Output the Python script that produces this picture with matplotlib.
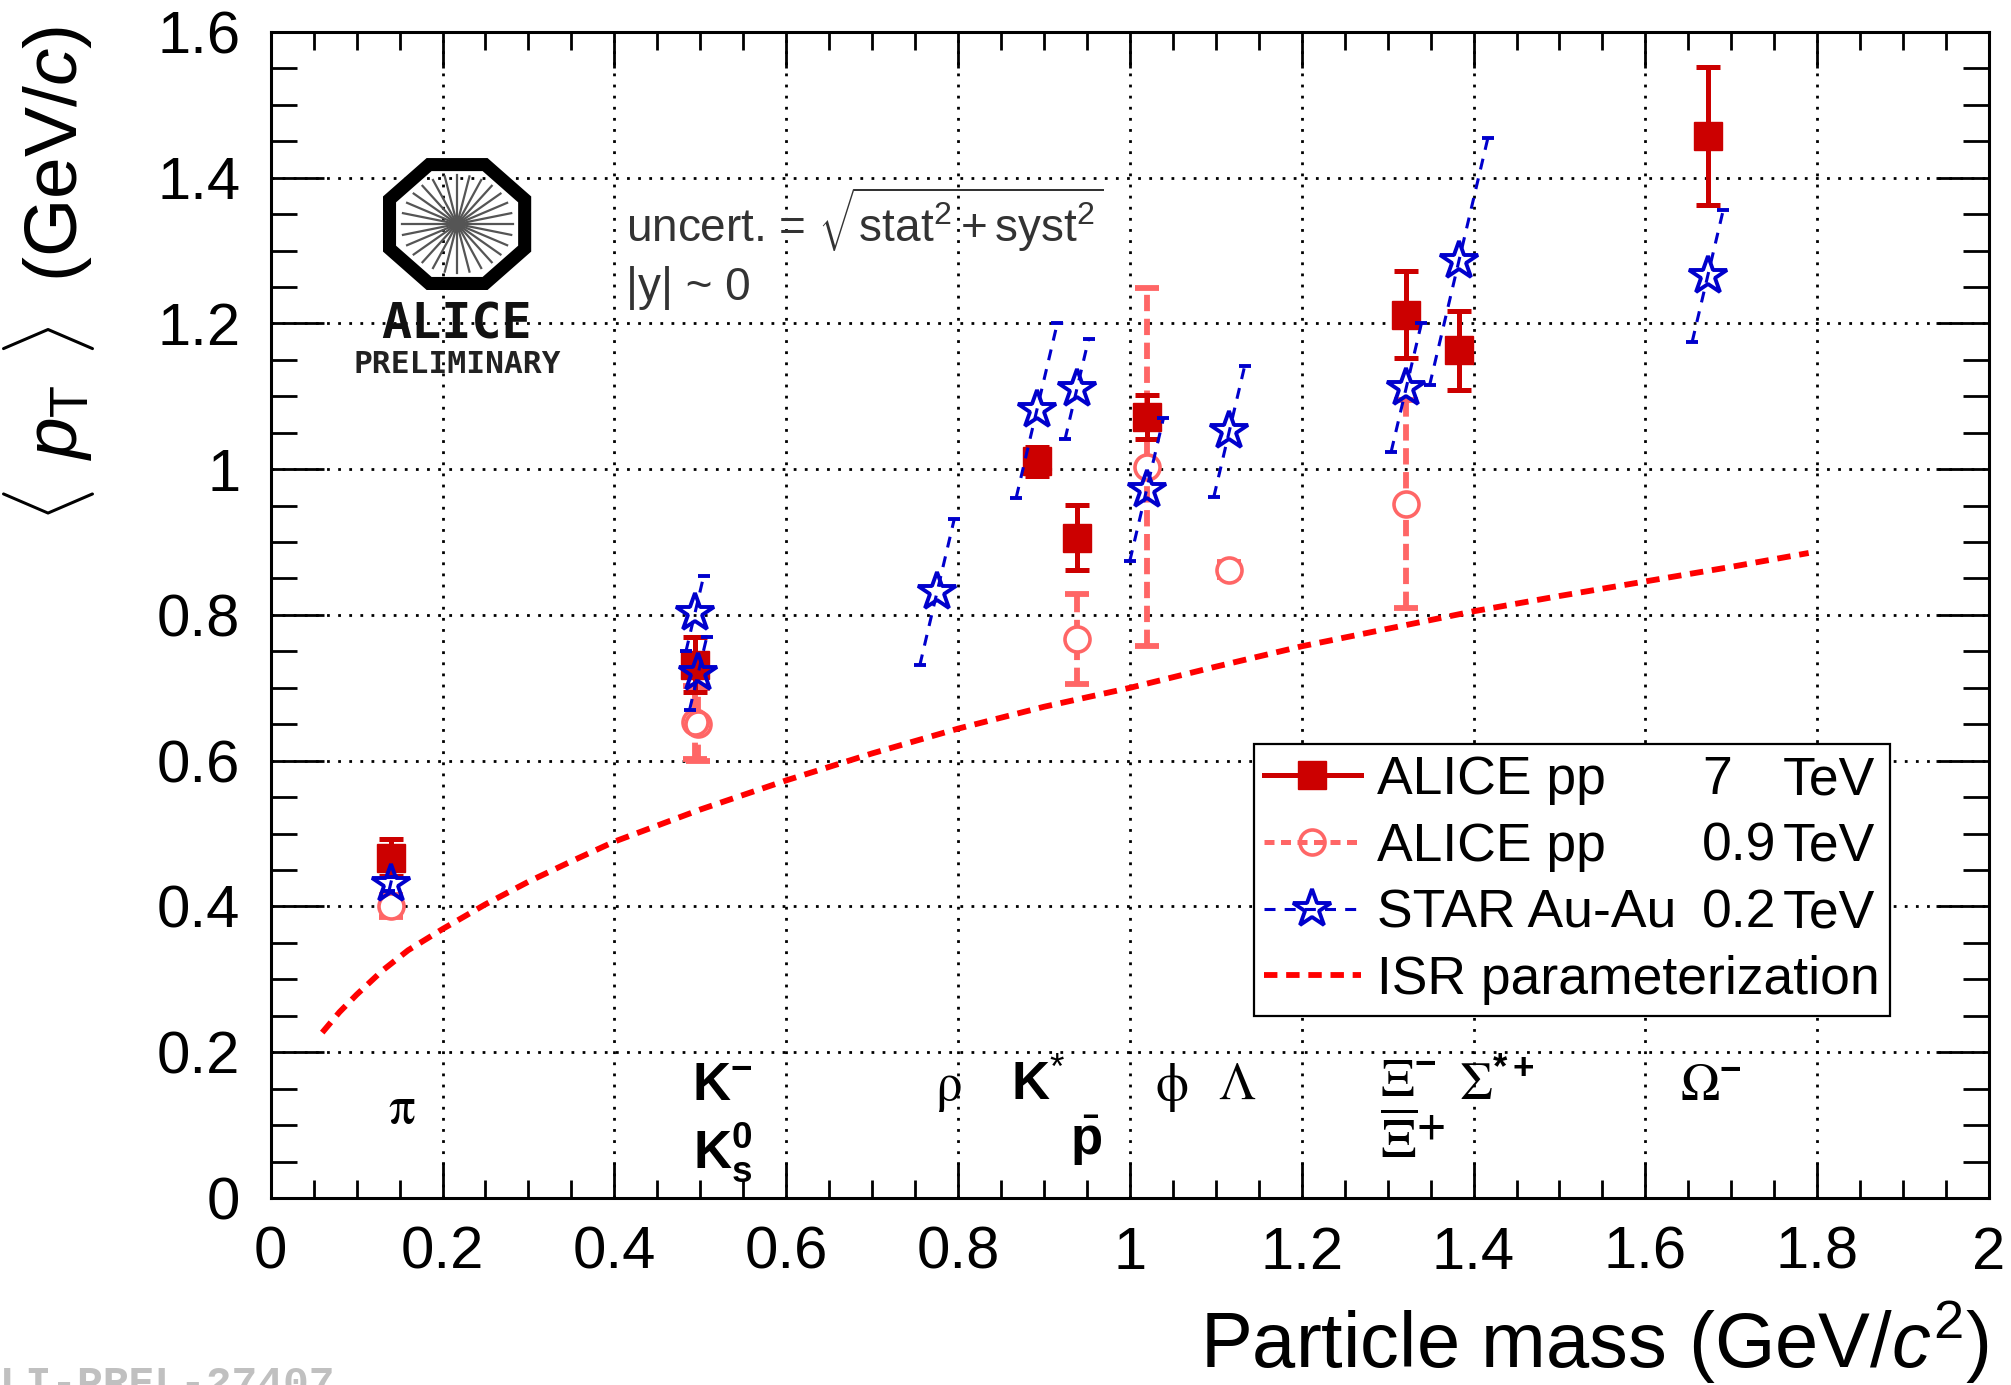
import numpy as np
import matplotlib as mpl
mpl.use('Agg')
import matplotlib.pyplot as plt
from matplotlib.lines import Line2D
from matplotlib.patches import RegularPolygon, Circle
from matplotlib.ticker import MultipleLocator, FormatStrFormatter

## Data
# ALICE pp 7 TeV
alice7_mass = [0.1396, 0.4937, 0.8917, 0.9383, 1.0195, 1.3217, 1.3828, 1.6725]
alice7_mpt = [0.467, 0.732, 1.011, 0.906, 1.072, 1.212, 1.163, 1.457]
alice7_err = [0.025, 0.038, 0.020, 0.045, 0.030, 0.060, 0.054, 0.095]

# ALICE pp 0.9 TeV
alice09_mass = [0.1396, 0.4937, 0.4976, 0.9383, 1.0195, 1.1157, 1.3217]
alice09_mpt = [0.401, 0.653, 0.650, 0.767, 1.003, 0.862, 0.952]
alice09_err = [0.015, 0.050, 0.050, 0.062, 0.245, 0.010, 0.143]

# STAR Au-Au 0.2 TeV
star_mass = [0.1396, 0.4937, 0.4976, 0.7755, 0.8917, 0.9383, 1.0195, 1.1157, 1.3217, 1.3828, 1.6725]
star_mpt = [0.431, 0.802, 0.720, 0.831, 1.081, 1.110, 0.972, 1.052, 1.112, 1.285, 1.265]
star_err = [0.010, 0.052, 0.050, 0.100, 0.120, 0.069, 0.098, 0.090, 0.088, 0.170, 0.090]

# ISR parameterization
isr_mass = [0.06, 0.08, 0.10, 0.13, 0.16, 0.20, 0.25, 0.30, 0.35, 0.40, 0.50, 0.60,
            0.70, 0.80, 0.90, 1.00, 1.10, 1.20, 1.30, 1.40, 1.50, 1.60, 1.70, 1.79]
isr_mpt = [0.227, 0.255, 0.279, 0.312, 0.340, 0.369, 0.403, 0.434, 0.462, 0.489, 0.533, 0.573,
           0.610, 0.644, 0.674, 0.700, 0.729, 0.757, 0.781, 0.805, 0.826, 0.846, 0.866, 0.885]

legend_names = ['ALICE pp', 'ALICE pp', 'STAR Au-Au', 'ISR parameterization']
legend_energies = ['7', '0.9', '0.2', '']

## Style
DARKRED = '#cc0000'
PINK = '#ff6666'
BLUE = '#0000cc'
ISRRED = '#ff0000'
STAR_TILT = 0.2   # the STAR bars are drawn tilted in the original

plt.rcParams['font.family'] = ['Liberation Sans', 'DejaVu Sans']
plt.rcParams['mathtext.fontset'] = 'custom'
plt.rcParams['mathtext.rm'] = 'Liberation Sans'
plt.rcParams['mathtext.it'] = 'Liberation Sans:italic'
plt.rcParams['mathtext.bf'] = 'Liberation Sans:bold'

fig = plt.figure(figsize=(20.11, 13.85), dpi=100, facecolor='w')
ax = fig.add_axes([0.1346, 0.135, 0.8545, 0.842])

# ISR curve
isr_line, = ax.plot(isr_mass, isr_mpt, color=ISRRED, lw=4.2, dashes=(2.3, 1.5), zorder=2)

# ALICE 0.9 TeV
eb09 = ax.errorbar(alice09_mass, alice09_mpt, yerr=alice09_err, fmt='none', ecolor=PINK,
                   elinewidth=4.2, capsize=8.5, capthick=4.2, zorder=3)
for lc in eb09[2]:
    lc.set_linestyle((0, (2.8, 1.3)))
ax.plot(alice09_mass, alice09_mpt, 'o', ms=18, mfc='white', mec='none', zorder=3.1)
ax.plot(alice09_mass, alice09_mpt, 'o', ms=18, mfc='none', mec=PINK, mew=2.6, zorder=3.2)

# ALICE 7 TeV
ax.errorbar(alice7_mass, alice7_mpt, yerr=alice7_err, fmt='s', color=DARKRED, ms=20,
            elinewidth=3.6, capsize=8.5, capthick=3.6, zorder=4)

# STAR, tilted dashed bars
for m, v, e in zip(star_mass, star_mpt, star_err):
    dx = STAR_TILT * e
    ax.plot([m - dx, m + dx], [v - e, v + e], color=BLUE, lw=2.2, dashes=(3.6, 3.0), zorder=5)
    ax.plot([m - dx, m + dx], [v - e, v + e], ls='none', marker='_', ms=9, mew=2.8,
            color=BLUE, zorder=5)
ax.plot(star_mass, star_mpt, '*', ms=29, mfc='none', mec=BLUE, mew=2.8, ls='none', zorder=5.5)

## Axes
ax.set_xlim(0, 2)
ax.set_ylim(0, 1.6)
ax.xaxis.set_major_locator(MultipleLocator(0.2))
ax.xaxis.set_minor_locator(MultipleLocator(0.05))
ax.yaxis.set_major_locator(MultipleLocator(0.2))
ax.yaxis.set_minor_locator(MultipleLocator(0.05))
ax.xaxis.set_major_formatter(FormatStrFormatter('%g'))
ax.yaxis.set_major_formatter(FormatStrFormatter('%g'))
ax.tick_params(which='both', direction='in', top=True, right=True, width=2)
ax.tick_params(axis='x', which='major', length=26, pad=20, labelsize=43)
ax.tick_params(axis='x', which='minor', length=13)
ax.tick_params(axis='y', which='major', length=38, pad=22, labelsize=43)
ax.tick_params(axis='y', which='minor', length=19)
for sp in ax.spines.values():
    sp.set_linewidth(2.2)
ax.grid(True, which='major', color='black', lw=2.0, linestyle=(0, (1, 3)))

ax.set_xlabel(r'Particle mass (GeV/$c^{2}$)', fontsize=56, loc='right')
ax.xaxis.set_label_coords(1.0, -0.086)
ax.set_ylabel(r'$\langle\;\,p_{\rm T}\;\,\rangle\;$ (GeV/$c$)', fontsize=54, loc='top')
ax.yaxis.set_label_coords(-0.101, 1.005)

## Particle names
greek = dict(fontsize=38, fontfamily='STIXGeneral', ha='left', va='baseline')
bold = dict(fontsize=38, fontweight='bold', ha='left', va='baseline')
ax.text(0.137, 0.103, 'π', **greek)
ax.text(0.490, 0.135, r'K$^{\mathbf{-}}$', **bold)
ax.text(0.492, 0.041, r'K$^{\mathbf{0}}_{\mathbf{s}}$', **bold)
ax.text(0.773, 0.135, 'ρ', **greek)
ax.text(0.862, 0.135, r'K$^{*}$', **bold)
ax.text(0.930, 0.059, r'$\bar{\mathbf{p}}$', **bold)
ax.text(1.030, 0.135, 'ϕ', **greek)
ax.text(1.103, 0.135, 'Λ', **greek)
ax.text(1.291, 0.141, r'Ξ$^{\mathbf{-}}$', **greek)
ax.text(1.291, 0.055, r'$\overline{\Xi}^{\mathbf{+}}$', math_fontfamily='stix',
        fontsize=40, ha='left', va='baseline')
ax.text(1.383, 0.135, r'Σ$^{\mathbf{*+}}$', **greek)
ax.text(1.640, 0.135, r'Ω$^{\mathbf{-}}$', **greek)

## Annotation text
ax.text(0.207, 0.820, r'uncert. = $\sqrt{\mathrm{stat}^{2} + \mathrm{syst}^{2}}$',
        transform=ax.transAxes, fontsize=33, color='#333333', va='baseline')
ax.text(0.207, 0.770, r'|y| ~ 0', transform=ax.transAxes, fontsize=33,
        color='#333333', va='baseline')

## Legend
h7 = Line2D([], [], color=DARKRED, lw=3.6, marker='s', ms=20)
h09 = Line2D([], [], color=PINK, lw=3.6, dashes=(2, 1.3), marker='o', ms=18,
             mfc='none', mec=PINK, mew=2.6)
hst = Line2D([], [], color=BLUE, lw=2.2, dashes=(3.6, 3), marker='*', ms=29,
             mfc='none', mec=BLUE, mew=2.8)
leg = ax.legend([h7, h09, hst, isr_line], legend_names, loc='upper left',
                bbox_to_anchor=(0.572, 0.389), borderaxespad=0, fontsize=38.5,
                handlelength=1.8, handletextpad=0.3, borderpad=0.2, labelspacing=0.31,
                fancybox=False, edgecolor='black', framealpha=1)
leg.get_frame().set_linewidth(1.6)
leg.set_zorder(10)

fig.canvas.draw()
inv = ax.transAxes.inverted()
for txt, en in zip(leg.get_texts(), legend_energies):
    if not en:
        continue
    bb = txt.get_window_extent()
    y = inv.transform((0, bb.y0))[1]
    ax.text(0.833, y, en, transform=ax.transAxes, fontsize=38.5, ha='left', va='bottom', zorder=11)
    ax.text(0.9337, y, 'TeV', transform=ax.transAxes, fontsize=38.5, ha='right', va='bottom', zorder=11)

## ALICE logo
lg = fig.add_axes([0.19, 0.7906, 0.0746, 0.0953])
lg.set_xlim(-1, 1)
lg.set_ylim(-1, 1)
lg.axis('off')
lg.add_patch(RegularPolygon((0, 0), 8, radius=0.975, orientation=np.pi / 8,
                            fill=False, lw=9.4, ec='black'))
for ang in np.linspace(0, np.pi, 14, endpoint=False):
    lg.plot([-0.74 * np.cos(ang), 0.74 * np.cos(ang)], [-0.74 * np.sin(ang), 0.74 * np.sin(ang)],
            color='#555555', lw=1.6)
lg.add_patch(Circle((0, 0), 0.1, color='#aaaaaa'))
fig.text(0.2272, 0.766, 'ALICE', fontsize=36, family='DejaVu Sans Mono', weight='bold',
         ha='center', va='center', color='#111111')
fig.text(0.2272, 0.737, 'PRELIMINARY', fontsize=22.5, family='DejaVu Sans Mono', weight='bold',
         ha='center', va='center', color='#222222')

fig.text(-0.0128, -0.008, 'ALI-PREL-27407', fontsize=31, family='Liberation Mono',
         weight='bold', color='#c0c0c0', ha='left', va='baseline')

plt.savefig('out.png', dpi=100)
